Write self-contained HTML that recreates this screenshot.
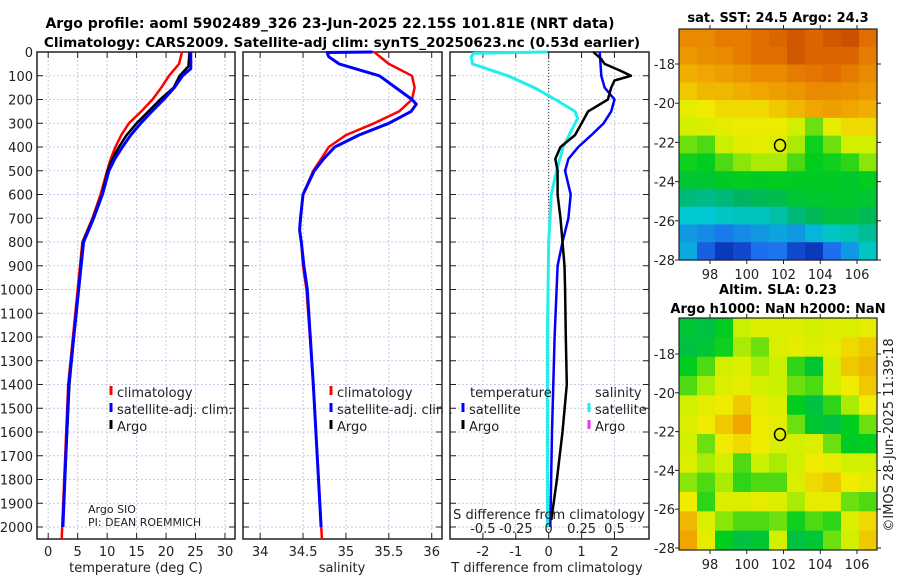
<!DOCTYPE html>
<html><head><meta charset="utf-8"><style>
body{margin:0;background:#fff;}
svg{display:block;font-family:"DejaVu Sans","Liberation Sans",sans-serif;}
</style></head><body>
<svg id="fig" width="900" height="580" viewBox="0 0 900 580" xmlns="http://www.w3.org/2000/svg">
<text x="330" y="28" text-anchor="middle" font-size="14" font-weight="bold">Argo profile: aoml 5902489_326 23-Jun-2025 22.15S 101.81E (NRT data)</text>
<text x="342" y="47" text-anchor="middle" font-size="13.6" font-weight="bold">Climatology: CARS2009. Satellite-adj clim: synTS_20250623.nc (0.53d earlier)</text>
<g id="g"></g>
</svg>
<script>
// ---- data (depth in m) ----
const tDepth   = [0, 50, 100, 150, 200, 250, 300, 350, 400, 450, 500, 600, 700, 800, 1400, 2050];
const tClim    = [22.7, 22.2, 20.5, 19.2, 17.7, 15.8, 13.7, 12.4, 11.4, 10.6, 10.0, 8.9, 7.5, 5.8, 3.4, 2.3];
const tSatD    = [0, 70, 100, 150, 200, 250, 300, 350, 400, 450, 500, 600, 700, 800, 1400, 2000];
const tSat     = [24.2, 24.2, 22.8, 21.4, 19.6, 17.6, 15.7, 14.0, 12.6, 11.3, 10.3, 9.2, 7.7, 6.0, 3.5, 2.5];
const tArgoD   = [0, 60, 100, 150, 200, 250, 300, 350, 400, 450, 500, 600, 700, 800, 1400, 1970];
const tArgo    = [24.0, 23.8, 22.3, 21.3, 19.0, 17.0, 15.0, 13.3, 12.0, 10.9, 10.1, 9.1, 7.6, 5.9, 3.6, 2.5];

const sDepth   = [0, 50, 100, 150, 200, 250, 300, 350, 400, 450, 500, 600, 700, 750, 800, 900, 1000, 1400, 2050];
const sClim    = [35.33, 35.5, 35.77, 35.8, 35.77, 35.62, 35.33, 35.0, 34.8, 34.71, 34.62, 34.5, 34.47, 34.46, 34.48, 34.5, 34.54, 34.62, 34.72];
const sSatD    = [0, 2, 20, 50, 100, 150, 200, 220, 250, 300, 350, 400, 450, 500, 600, 700, 750, 800, 900, 1000, 1400, 2000];
const sSat     = [35.31, 34.78, 34.8, 34.92, 35.39, 35.58, 35.77, 35.82, 35.76, 35.5, 35.15, 34.87, 34.74, 34.63, 34.5, 34.47, 34.46, 34.48, 34.51, 34.55, 34.62, 34.71];

const dSatD    = [0, 100, 150, 200, 250, 300, 350, 400, 450, 500, 600, 700, 800, 900, 1200, 1600, 2000];
const dSatT    = [1.55, 1.6, 1.7, 2.0, 1.9, 1.67, 1.3, 0.9, 0.6, 0.5, 0.67, 0.6, 0.42, 0.27, 0.18, 0.1, 0.05];
const dArgoD   = [0, 30, 50, 80, 100, 120, 150, 200, 250, 300, 350, 400, 450, 500, 600, 700, 800, 900, 1000, 1200, 1400, 1600, 1800, 1970];
const dArgoT   = [1.36, 1.6, 1.7, 2.2, 2.5, 2.0, 1.9, 1.8, 1.2, 1.0, 0.8, 0.36, 0.2, 0.27, 0.27, 0.36, 0.42, 0.48, 0.5, 0.52, 0.55, 0.42, 0.25, 0.08];
const dSatSD   = [0, 5, 20, 50, 100, 150, 200, 250, 280, 300, 400, 500, 600, 700, 800, 1200, 2000];
const dSatS    = [-0.01, -0.57, -0.59, -0.58, -0.31, -0.11, 0.05, 0.2, 0.22, 0.2, 0.11, 0.06, 0.02, 0.01, 0.0, -0.01, -0.01];

const depthTicks = [0,100,200,300,400,500,600,700,800,900,1000,1100,1200,1300,1400,1500,1600,1700,1800,1900,2000];
const tTicks = [0,5,10,15,20,25,30];
const sTicks = [34,34.5,35,35.5,36];
const dTTicks = [-2,-1,0,1,2];
const dSTicks = [-0.5,-0.25,0,0.25,0.5];
const dSTickLabels = ["-0.5","-0.25","0","0.25","0.5"];

const sstGrid = [
[0.88,0.88,0.9,0.9,0.92,0.93,0.95,0.93,0.95,0.96,0.92],
[0.86,0.87,0.88,0.9,0.92,0.92,0.95,0.93,0.93,0.93,0.9],
[0.83,0.84,0.85,0.86,0.88,0.88,0.9,0.91,0.92,0.9,0.88],
[0.8,0.82,0.82,0.83,0.84,0.85,0.86,0.88,0.88,0.87,0.86],
[0.74,0.76,0.78,0.78,0.78,0.8,0.82,0.84,0.85,0.84,0.83],
[0.7,0.72,0.74,0.75,0.75,0.75,0.7,0.62,0.74,0.78,0.78],
[0.62,0.6,0.68,0.73,0.74,0.72,0.66,0.56,0.62,0.7,0.7],
[0.56,0.55,0.6,0.64,0.66,0.66,0.6,0.55,0.56,0.58,0.64],
[0.52,0.52,0.54,0.55,0.54,0.55,0.54,0.54,0.54,0.53,0.55],
[0.42,0.4,0.42,0.45,0.47,0.48,0.52,0.53,0.53,0.53,0.52],
[0.3,0.3,0.32,0.33,0.33,0.36,0.42,0.47,0.5,0.5,0.47],
[0.22,0.2,0.17,0.2,0.22,0.24,0.22,0.27,0.32,0.34,0.38],
[0.25,0.12,0.05,0.08,0.15,0.16,0.08,0.05,0.15,0.22,0.32]];
const slaGrid = [
[0.52,0.5,0.55,0.68,0.72,0.72,0.72,0.7,0.72,0.72,0.74],
[0.5,0.52,0.56,0.66,0.62,0.72,0.74,0.72,0.74,0.78,0.8],
[0.55,0.6,0.7,0.72,0.66,0.68,0.58,0.52,0.7,0.8,0.82],
[0.6,0.66,0.72,0.74,0.7,0.68,0.62,0.6,0.7,0.76,0.8],
[0.7,0.74,0.76,0.8,0.74,0.72,0.55,0.5,0.58,0.66,0.76],
[0.72,0.76,0.8,0.84,0.76,0.74,0.62,0.52,0.5,0.55,0.62],
[0.7,0.62,0.76,0.78,0.76,0.72,0.7,0.72,0.62,0.54,0.55],
[0.72,0.66,0.7,0.6,0.68,0.66,0.7,0.76,0.74,0.7,0.7],
[0.64,0.6,0.66,0.58,0.6,0.6,0.72,0.78,0.8,0.76,0.74],
[0.76,0.58,0.72,0.72,0.74,0.72,0.66,0.74,0.74,0.62,0.6],
[0.82,0.72,0.64,0.6,0.6,0.62,0.56,0.6,0.58,0.72,0.78],
[0.84,0.74,0.55,0.5,0.52,0.7,0.5,0.52,0.62,0.7,0.8]];
const lonTicks = [98,100,102,104,106];
const latTicks = [-18,-20,-22,-24,-26,-28];
const argoLon = 101.81, argoLat = -22.15;

// ---- helpers ----
const NS="http://www.w3.org/2000/svg";
const G=document.getElementById('g');
function el(tag,attrs,parent,txt){const e=document.createElementNS(NS,tag);for(const k in attrs)e.setAttribute(k,attrs[k]);if(txt!==undefined)e.textContent=txt;(parent||G).appendChild(e);return e;}
const TOP=52, BOT=539;
const yD = d => TOP + d*0.2375;

function panel(name,x0,x1,xmin,xmax,ticks,labels,showY){
  const sx = v => x0 + (v-xmin)/(xmax-xmin)*(x1-x0);
  const g=el('g',{});
  
  
  ticks.forEach(t=>{el('line',{x1:sx(t),x2:sx(t),y1:TOP,y2:BOT,stroke:'#c4c8e8','stroke-width':1,'stroke-dasharray':'2,2'},g);});
  depthTicks.forEach(d=>{el('line',{x1:x0,x2:x1,y1:yD(d),y2:yD(d),stroke:'#c4c8e8','stroke-width':1,'stroke-dasharray':'2,2'},g);
    el('line',{x1:x0,x2:x0+6,y1:yD(d),y2:yD(d),stroke:'#222'},g);
    el('line',{x1:x1-6,x2:x1,y1:yD(d),y2:yD(d),stroke:'#222'},g);
    if(showY){const t=el('text',{x:x0-4,y:yD(d)+5,'text-anchor':'end','font-size':13,fill:'#222'},g,String(d));}
  });
  ticks.forEach((t,i)=>{el('line',{x1:sx(t),x2:sx(t),y1:BOT,y2:BOT-6,stroke:'#222'},g);el('line',{x1:sx(t),x2:sx(t),y1:TOP,y2:TOP+6,stroke:'#222'},g);
    if(labels){const tx=el('text',{x:sx(t),y:BOT+17,'text-anchor':'middle','font-size':13,fill:'#222'},g,labels[i]);}});
  el('rect',{x:x0,y:TOP,width:x1-x0,height:BOT-TOP,fill:'none',stroke:'#222','stroke-width':1.5},g);
  return {sx,g};
}
function line(p,xs,ds,color,w,name){
  const pts=xs.map((v,i)=>p.sx(v).toFixed(1)+','+yD(ds[i]).toFixed(1)).join(' ');
  const l=el('polyline',{points:pts,fill:'none',stroke:color,'stroke-width':w,'stroke-linejoin':'round'},p.g);
  
  
}
function legendItem(x,y,color,label,name){
  el('line',{x1:x,x2:x,y1:y-11,y2:y-2,stroke:color,'stroke-width':3});
  const t=el('text',{x:x+6,y:y,'font-size':13,fill:'#222'},G,label);
  
  
}

// Panel 1: temperature
const p1=panel('temperature',37,235,-1.9,31.7,tTicks,tTicks.map(String),true);
line(p1,tClim,tDepth,'#ff0000',2.5,'temp-climatology-line');
line(p1,tArgo,tArgoD,'#000000',2.5,'temp-argo-line');
line(p1,tSat,tSatD,'#0000ff',3,'temp-satellite-line');
el('text',{x:136,y:572,'text-anchor':'middle','font-size':13,fill:'#222',},G,'temperature (deg C)');
legendItem(111,397,'#ff0000','climatology','legend-climatology');
legendItem(111,414,'#0000ff','satellite-adj. clim.','legend-satellite');
legendItem(111,431,'#000000','Argo','legend-argo');
el('text',{x:88,y:513,'font-size':11,fill:'#222',},G,'Argo SIO');
el('text',{x:88,y:526,'font-size':11,fill:'#222',},G,'PI: DEAN ROEMMICH');

// Panel 2: salinity
const p2=panel('salinity',243,442,33.8,36.12,sTicks,["34","34.5","35","35.5","36"],false);
line(p2,sClim,sDepth,'#ff0000',2.5,'sal-climatology-line');
line(p2,sSat,sSatD,'#0000ff',3,'sal-satellite-line');
el('text',{x:342,y:572,'text-anchor':'middle','font-size':13,fill:'#222',},G,'salinity');
legendItem(331,397,'#ff0000','climatology','legend-climatology-2');
legendItem(331,414,'#0000ff','satellite-adj. clim.','legend-satellite-2');
legendItem(331,431,'#000000','Argo','legend-argo-2');
el('rect',{x:442.8,y:380,width:7,height:60,fill:'#fff'});

// Panel 3: differences
const p3=panel('difference',450,649,-3,3.05,dTTicks,["-2","-1","0","1","2"],false);
el('line',{x1:p3.sx(0),x2:p3.sx(0),y1:TOP,y2:BOT,stroke:'#333','stroke-width':1,'stroke-dasharray':'1,2'},p3.g);
const dSasT = dSatS.map(v=>v*4);
line(p3,dSasT,dSatSD,'#22eeee',3,'sal-diff-satellite-line');
line(p3,dSatT,dSatD,'#0000ff',2.5,'temp-diff-satellite-line');
line(p3,dArgoT,dArgoD,'#000000',2.5,'temp-diff-argo-line');
dSTicks.forEach((t,i)=>{const tx=el('text',{x:p3.sx(t*4),y:533,'text-anchor':'middle','font-size':13,fill:'#222'},G,dSTickLabels[i]);});
el('text',{x:549,y:519,'text-anchor':'middle','font-size':13,fill:'#222',},G,'S difference from climatology');
el('text',{x:547,y:572,'text-anchor':'middle','font-size':13,fill:'#222',},G,'T difference from climatology');
el('text',{x:470,y:397,'font-size':13,fill:'#222',},G,'temperature');
legendItem(463,414,'#0000ff','satellite','legend-tdiff-satellite');
legendItem(463,431,'#000000','Argo','legend-tdiff-argo');
el('text',{x:595,y:397,'font-size':13,fill:'#222',},G,'salinity');
legendItem(589,414,'#22eeee','satellite','legend-sdiff-satellite');
legendItem(589,431,'#ee33ee','Argo','legend-sdiff-argo');

// ---- maps ----
function cmap(v){
  const st=[[0,[0,30,160]],[0.15,[30,110,240]],[0.3,[0,200,210]],[0.45,[0,180,100]],[0.55,[0,205,30]],[0.68,[200,240,0]],[0.76,[240,235,0]],[0.84,[240,165,0]],[0.92,[225,110,0]],[1,[180,50,0]]];
  for(let i=1;i<st.length;i++){if(v<=st[i][0]){const a=st[i-1],b=st[i],f=(v-a[0])/(b[0]-a[0]);return 'rgb('+a[1].map((c,j)=>Math.round(c+(b[1][j]-c)*f)).join(',')+')';}}
  return 'rgb(180,50,0)';
}
function map(name,grid,x0,x1,y0,y1,lat18y,lat28y,titles){
  const g=el('g',{});
  
  
  const rows=grid.length, cols=grid[0].length, cw=(x1-x0)/cols, ch=(y1-y0)/rows;
  grid.forEach((row,r)=>row.forEach((v,c)=>{el('rect',{x:x0+c*cw,y:y0+r*ch,width:cw+0.6,height:ch+0.6,fill:cmap(v)},g);}));
  const lx = lon => 710 + (lon-98)*(857-710)/8;
  const ly = lat => lat18y + (lat+18)*(lat28y-lat18y)/(-10);
  lonTicks.forEach(l=>{el('line',{x1:lx(l),x2:lx(l),y1:y1,y2:y1+4,stroke:'#222'},g);el('line',{x1:lx(l),x2:lx(l),y1:y0,y2:y0-4,stroke:'#222'},g);
    const t=el('text',{x:lx(l),y:y1+19,'text-anchor':'middle','font-size':13,fill:'#222'},g,String(l));});
  latTicks.forEach(l=>{el('line',{x1:x0-4,x2:x0,y1:ly(l),y2:ly(l),stroke:'#222'},g);el('line',{x1:x1,x2:x1+4,y1:ly(l),y2:ly(l),stroke:'#222'},g);
    const t=el('text',{x:x0-4,y:ly(l)+5,'text-anchor':'end','font-size':13,fill:'#222'},g,String(l));});
  el('rect',{x:x0,y:y0,width:x1-x0,height:y1-y0,fill:'none',stroke:'#222','stroke-width':1.2},g);
  const c=el('ellipse',{cx:lx(argoLon),cy:ly(argoLat),rx:5.5,ry:6,fill:'none',stroke:'#000','stroke-width':1.5},g);
  
  
  titles.forEach((tt,i)=>{const t=el('text',{x:778,y:tt[1],'text-anchor':'middle','font-size':13,'font-weight':'bold',fill:'#000'},g,tt[0]);});
}
map('sst-map',sstGrid,679,877,29,260,64,260,[['sat. SST: 24.5 Argo: 24.3',22]]);
map('sla-map',slaGrid,679,877,318,550,354,548,[['Altim. SLA: 0.23',294],['Argo h1000: NaN h2000: NaN',313]]);
el('text',{x:893,y:435,'text-anchor':'middle','font-size':13,fill:'#222',transform:'rotate(-90 893 435)',},G,'©IMOS 28-Jun-2025 11:39:18');
</script>
</body></html>
